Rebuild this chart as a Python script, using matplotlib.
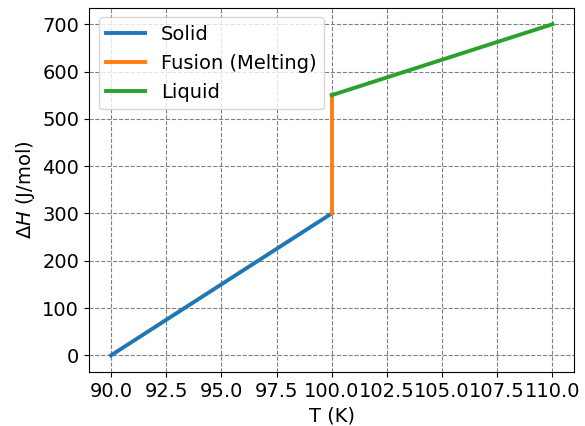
import matplotlib
matplotlib.use('Agg')
import matplotlib.pyplot as plt

# Enthalpy data
solid_T = [90.0, 100.0]
solid_H = [0.0, 300.0]
fusion_T = [100.0, 100.0]
fusion_H = [300.0, 550.0]
liquid_T = [100.0, 110.0]
liquid_H = [550.0, 700.0]

plt.rcParams['font.size'] = 14
fig = plt.figure(figsize=(5.85, 4.26), dpi=100)
ax = fig.add_axes([0.152, 0.127, 0.830, 0.855])
ax.plot(solid_T, solid_H, lw=2.8, label='Solid')
ax.plot(fusion_T, fusion_H, lw=2.8, label='Fusion (Melting)')
ax.plot(liquid_T, liquid_H, lw=2.8, label='Liquid')
ax.set_xlabel('T (K)')
ax.set_ylabel(r'$\Delta H$ (J/mol)')
ax.set_xticks([90, 92.5, 95, 97.5, 100, 102.5, 105, 107.5, 110])
ax.set_xticklabels(['90.0', '92.5', '95.0', '97.5', '100.0', '102.5', '105.0', '107.5', '110.0'])
ax.set_xlim(89.0, 111.0)
ax.set_ylim(-35, 735)
ax.grid(True, ls='--', color='gray')
ax.legend(loc='upper left')
fig.savefig('out.png')
